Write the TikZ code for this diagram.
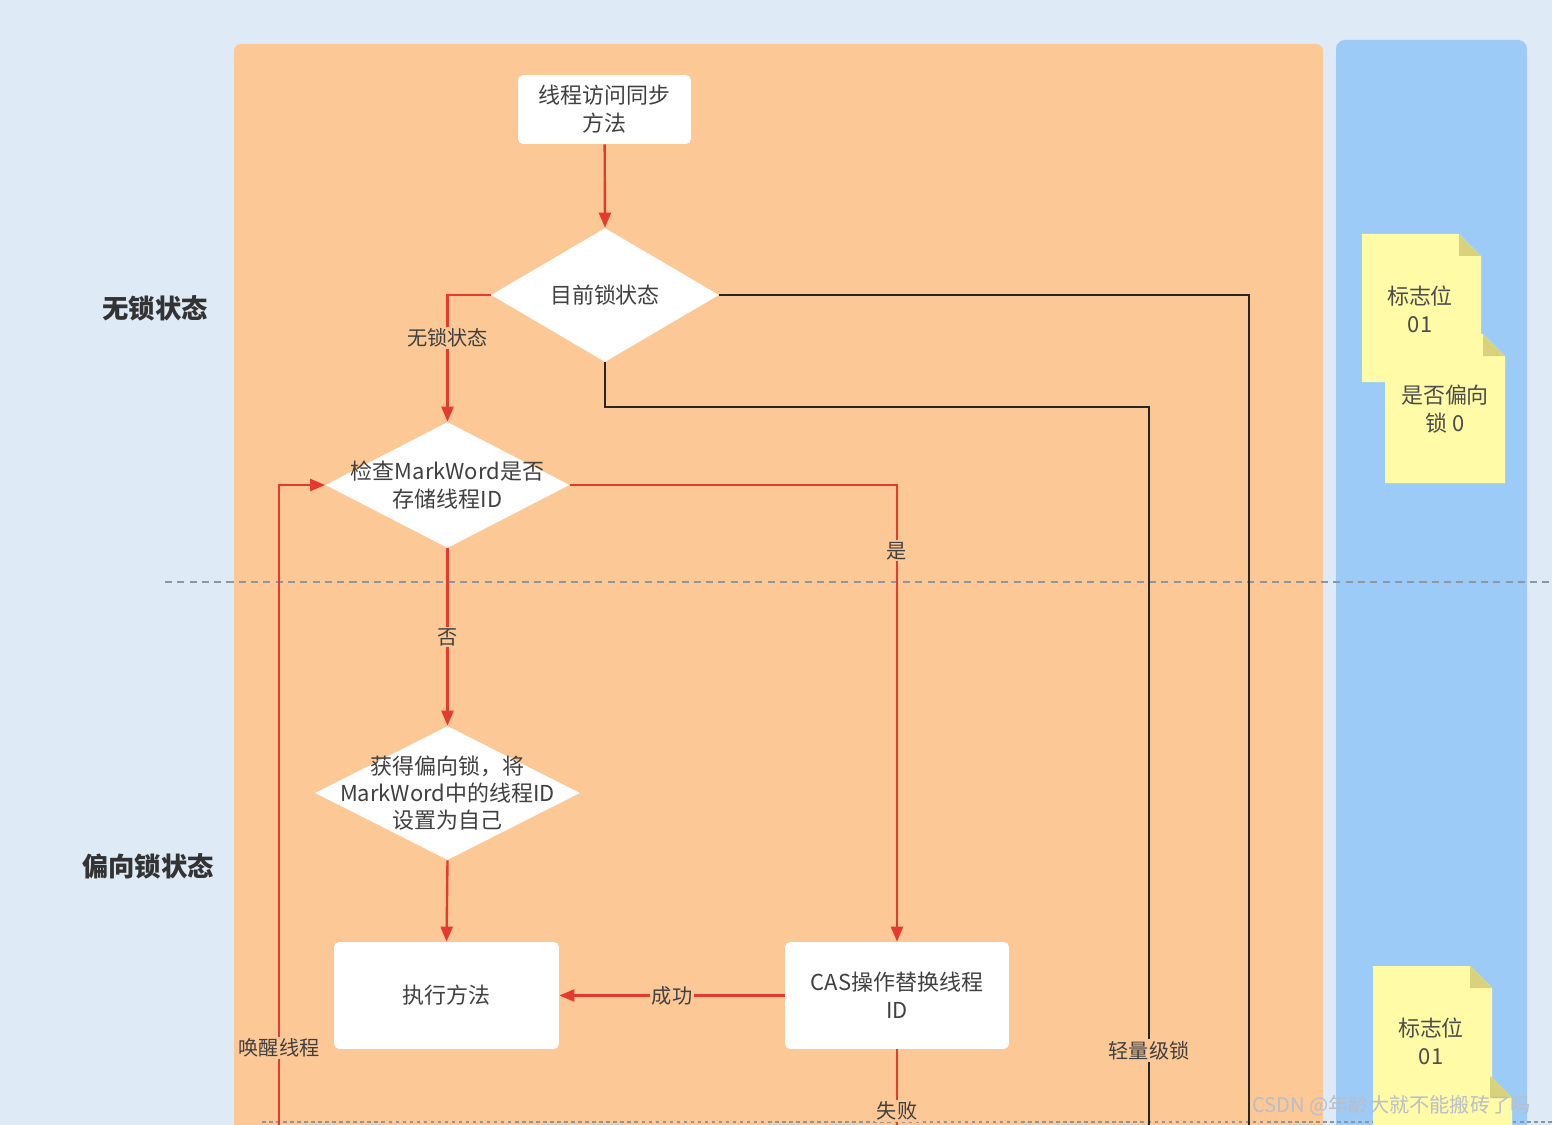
\documentclass[tikz,border=0pt]{standalone}
\usepackage{fontspec}
\setmainfont{Noto Sans CJK SC}
\usetikzlibrary{shapes.geometric,arrows.meta}
\definecolor{bgblue}{HTML}{DFEAF7}
\definecolor{panelor}{HTML}{FCC896}
\definecolor{panelbl}{HTML}{9CCBF7}
\definecolor{redln}{HTML}{E63A2E}
\definecolor{txt}{HTML}{404040}
\definecolor{note}{HTML}{FFFBA6}
\definecolor{notefold}{HTML}{D9D27C}
\definecolor{dashc}{HTML}{8E96A0}
\definecolor{wm}{HTML}{B9BEC8}
\tikzset{
  box/.style={rectangle, fill=white, rounded corners=3pt, align=center, text=txt, font=\fontsize{12.5}{16}\selectfont},
  dia/.style={diamond, fill=white, inner sep=0pt},
  diatext/.style={align=center, text=txt, font=\fontsize{12.5}{15.5}\selectfont},
  redarrow/.style={draw=redln, line width=1.35pt, -{Triangle[length=0.3cm,width=0.24cm]}},
  redline/.style={draw=redln, line width=1.35pt},
  blackline/.style={draw=black!85, line width=1.35pt},
  lbl/.style={fill=panelor, inner sep=1pt, text=txt, font=\fontsize{11.5}{13}\selectfont},
  side/.style={text=txt!80!black, font=\fontsize{15}{18}\selectfont\bfseries},
  notetxt/.style={align=center, text=black!70, font=\fontsize{12.5}{16}\selectfont},
}
\newcommand{\stickynote}[4]{%
  \fill[note] (#1,#2) -- (#3-22,#2) -- (#3,#2+22) -- (#3,#4) -- (#1,#4) -- cycle;
  \fill[notefold] (#3-22,#2) -- (#3,#2+22) -- (#3-22,#2+22) -- cycle;
}
\begin{document}
\begin{tikzpicture}[x=0.02cm,y=-0.02cm]
\useasboundingbox (0,0) rectangle (1552,1125);
\fill[bgblue] (0,0) rectangle (1552,1125);
% panels
\fill[panelor, rounded corners=4pt] (234,44) rectangle (1323,1140);
\fill[panelbl, rounded corners=5pt] (1336,40) rectangle (1527,1140);
% dashed separators
\draw[dashc, line width=0.8pt, dash pattern=on 4pt off 3pt] (165,582) -- (1552,582);
\draw[dashc, line width=0.8pt, dash pattern=on 2pt off 2pt] (262,1122) -- (1552,1122);
% side labels
\node[side] (lab1) at (155,308) {无锁状态};
\node[side] (lab2) at (148,866) {偏向锁状态};
% sticky notes
\stickynote{1362}{234}{1481}{382}
\stickynote{1385}{334}{1505}{483}
\node[notetxt] (n1) at (1420,309) {标志位\\01};
\node[notetxt] (n2) at (1445,409) {是否偏向\\锁 0};
\stickynote{1373}{966}{1492}{1140}
\stickynote{1398}{1076}{1512}{1140}
\node[notetxt] (n3) at (1431,1041) {标志位\\01};
% nodes
\node[box, minimum width=3.46cm, minimum height=1.38cm] (start) at (604.5,109.5) {线程访问同步\\方法};
\node[dia, minimum width=4.56cm, minimum height=2.68cm,
      label={[diatext]center:目前锁状态}] (d1) at (605,295) {};
\node[dia, minimum width=4.88cm, minimum height=2.52cm,
      label={[diatext]center:检查MarkWord是否\\存储线程ID}] (d2) at (447.5,485) {};
\node[dia, minimum width=5.3cm, minimum height=2.68cm,
      label={[diatext]center:获得偏向锁，将\\MarkWord中的线程ID\\设置为自己}] (d3) at (447.5,793) {};
\node[box, minimum width=4.5cm, minimum height=2.14cm] (exec) at (446.5,995.5) {执行方法};
\node[box, minimum width=4.48cm, minimum height=2.14cm] (cas) at (897,995.5) {CAS操作替换线程\\ID};
% free ends
\coordinate (e1) at (1249,1140);
\coordinate (k2) at (1149,407);
\coordinate (e2) at (1149,1140);
\coordinate (e3) at (897,1140);
\coordinate (e4) at (279,1140);
% connectors
\draw[redarrow] (start) -- (d1.north);
\draw[redarrow] (d1.west) -| node[lbl, pos=0.67] {无锁状态} (d2.north);
\draw[blackline] (d1.east) -| (e1);
\draw[blackline] (d1.south) |- (k2) -- node[lbl, pos=0.878] {轻量级锁} (e2);
\draw[redarrow] (d2.east) -| node[lbl, pos=0.572] {是} (cas.north);
\draw[redarrow] (d2.south) -- node[lbl, pos=0.5] {否} (d3.north);
\draw[redarrow] (d3.south) -- (exec.north);
\draw[redarrow] (cas.west) -- node[lbl, pos=0.5] {成功} (exec.east);
\draw[redline] (cas.south) -- node[lbl, pos=0.68] {失败} (e3);
\draw[redarrow] (e4) |- node[lbl, pos=0.07] {唤醒线程} (d2.west);
% watermark
\node[text=wm, font=\fontsize{11.5}{13}\selectfont, anchor=east] (wmk) at (1537,1106) {CSDN @年龄大就不能搬砖了吗};
\end{tikzpicture}
\end{document}
